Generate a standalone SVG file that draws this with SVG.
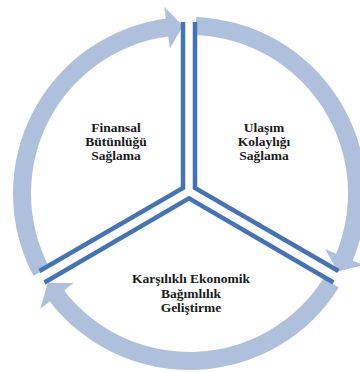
<svg xmlns="http://www.w3.org/2000/svg" width="360" height="372" viewBox="0 0 360 372">
  <style>
    .arc { fill: #AFC0DD; stroke: none; }
    .div { fill: none; stroke: #4673B3; stroke-width: 4.5; stroke-linejoin: miter; stroke-linecap: butt; }
    .lbl { font-family: "Liberation Serif", "Times New Roman", serif; font-weight: bold; font-size: 13.5px; fill: #1a1a1a; text-anchor: middle; }
  </style>
  <defs>
    <path id="ringArrow" d="M33.37,275.83 A176.5,176.5 0 0 1 165.85,18.59 L164.24,6.70 L183.07,26.12 L169.87,48.32 L168.26,36.43 A158.5,158.5 0 0 0 49.29,267.44 Z"/>
  </defs>
  <rect width="360" height="372" fill="#ffffff"/>
  <g id="connectors">
    <use href="#ringArrow" class="arc"/>
    <use href="#ringArrow" class="arc" transform="rotate(120 189.5 193.5)"/>
    <use href="#ringArrow" class="arc" transform="rotate(240 189.5 193.5)"/>
  </g>
  <g id="node-finansal">
    <polyline class="div" points="183,22 183,188 39.5,271"/>
    <text class="lbl" x="116" y="131.5">Finansal</text>
    <text class="lbl" x="116" y="145.5">Bütünlüğü</text>
    <text class="lbl" x="116" y="159.5">Sağlama</text>
  </g>
  <g id="node-ulasim">
    <polyline class="div" points="195,22 195,188 338.5,271"/>
    <text class="lbl" x="264" y="131.5">Ulaşım</text>
    <text class="lbl" x="264" y="145.5">Kolaylığı</text>
    <text class="lbl" x="264" y="159.5">Sağlama</text>
  </g>
  <g id="node-karsilikli">
    <polyline class="div" points="44.5,282.5 189,198.4 333.5,282.5"/>
    <text class="lbl" x="191" y="283">Karşılıklı Ekonomik</text>
    <text class="lbl" x="191" y="297.5">Bağımlılık</text>
    <text class="lbl" x="191" y="312">Geliştirme</text>
  </g>
</svg>
